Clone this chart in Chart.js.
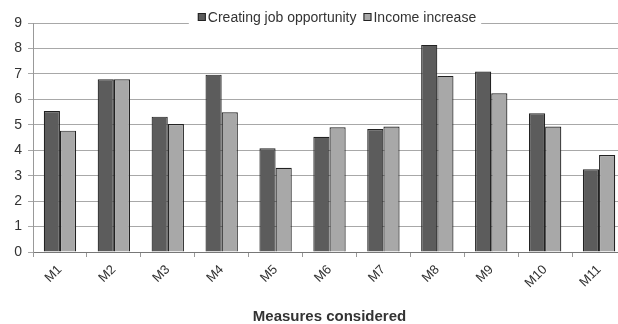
<!DOCTYPE html>
<html>
<head>
<meta charset="utf-8">
<script src="https://cdn.jsdelivr.net/npm/chart.js@4.4.0/dist/chart.umd.min.js"></script>
<style>
html,body{margin:0;padding:0;background:#fff;overflow:hidden;width:618px;height:324px;}
#wrap{position:absolute;left:0;top:0;width:626px;height:324px;}
</style>
</head>
<body>
<div id="wrap"><canvas id="c" width="626" height="324"></canvas></div>
<script>
const categories = ["M1","M2","M3","M4","M5","M6","M7","M8","M9","M10","M11"];
const jobOpportunity = [5.54, 6.79, 5.32, 6.97, 4.08, 4.53, 4.83, 8.14, 7.09, 5.45, 3.25];
const incomeIncrease = [4.77, 6.79, 5.03, 5.49, 3.31, 4.90, 4.93, 6.92, 6.24, 4.93, 3.81];
const seriesNames = ["Creating job opportunity", "Income increase"];
const yTicks = [0,1,2,3,4,5,6,7,8,9];

const darkColor = '#5c5c5c';
const lightColor = '#a8a8a8';
const borderColor = '#222';
const fontFamily = '"Liberation Sans", Arial, sans-serif';

const legendPlugin = {
  id: 'customLegend',
  afterDraw(chart) {
    const ctx = chart.ctx;
    ctx.save();
    ctx.font = '14px ' + fontFamily;
    const items = [
      {text: seriesNames[0], color: darkColor},
      {text: seriesNames[1], color: lightColor}
    ];
    const box = 8, gap = 2, itemGap = 7;
    let total = 0;
    items.forEach((it,i) => { total += box + gap + ctx.measureText(it.text).width + (i < items.length-1 ? itemGap : 0); });
    const cx = 337;
    let x = cx - total/2;
    const y = 18;
    ctx.fillStyle = '#fff';
    ctx.fillRect(x - 9, 8, total + 14, 19);
    items.forEach(it => {
      ctx.fillStyle = it.color;
      ctx.fillRect(x, y - 5, box, box);
      ctx.strokeStyle = borderColor;
      ctx.lineWidth = 1;
      ctx.strokeRect(x + 0.5, y - 4.5, box - 1, box - 1);
      x += box + gap;
      ctx.fillStyle = '#333';
      ctx.textBaseline = 'middle';
      ctx.textAlign = 'left';
      ctx.fillText(it.text, x, y);
      x += ctx.measureText(it.text).width + itemGap;
    });
    ctx.restore();
  }
};

new Chart(document.getElementById('c'), {
  type: 'bar',
  data: {
    labels: categories,
    datasets: [
      {label: seriesNames[0], data: jobOpportunity, backgroundColor: darkColor, borderColor: borderColor, borderWidth: 1.2, categoryPercentage: 0.6, barPercentage: 1.0},
      {label: seriesNames[1], data: incomeIncrease, backgroundColor: lightColor, borderColor: borderColor, borderWidth: 1.2, categoryPercentage: 0.6, barPercentage: 1.0}
    ]
  },
  options: {
    responsive: false,
    animation: false,
    layout: {padding: {left: 0, right: 0, top: 23, bottom: 0}},
    plugins: {legend: {display: false}, tooltip: {enabled: false}},
    scales: {
      x: {
        grid: {display: true, offset: true, drawOnChartArea: false, drawTicks: true, tickLength: 5, color: '#999'},
        border: {display: true, color: '#777', width: 1},
        ticks: {color: '#333', font: {family: fontFamily, size: 13}, maxRotation: 45, minRotation: 45, padding: 5},
        title: {display: true, text: 'Measures considered', color: '#333', font: {family: fontFamily, size: 15, weight: 'bold', lineHeight: 1}, padding: {top: 0, bottom: 0}},
        afterFit(scale) { scale.height = 72; }
      },
      y: {
        min: 0, max: 9,
        afterBuildTicks(scale) { scale.ticks = yTicks.map(v => ({value: v})); },
        grid: {color: '#a8a8a8', tickLength: 5, drawTicks: true},
        border: {display: true, color: '#999', width: 1},
        ticks: {color: '#333', font: {family: fontFamily, size: 14}, padding: 6},
        afterFit(scale) { scale.width = 33; }
      }
    }
  },
  plugins: [legendPlugin]
});
</script>
</body>
</html>
